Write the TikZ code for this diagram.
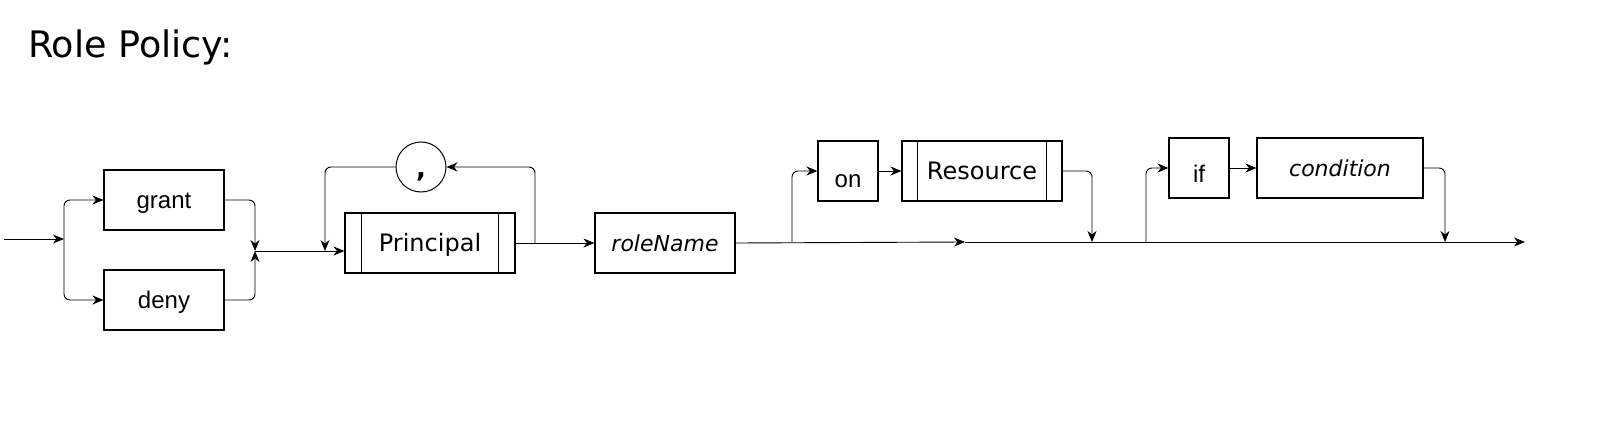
\documentclass[tikz,border=0pt]{standalone}
\usepackage{fontspec}
\setmainfont{Liberation Sans}
\newfontfamily\dvs{DejaVu Sans}
\usetikzlibrary{arrows.meta}
\begin{document}
\begin{tikzpicture}[x=1pt,y=-1pt,
  box/.style={draw, line width=1.1pt, minimum height=60pt, inner sep=0pt,
    text height=17pt, text depth=0pt, font=\fontsize{24}{28}\selectfont},
  dbox/.style={box, font=\dvs\fontsize{24}{28}\selectfont},
  ibox/.style={box, font=\dvs\itshape\fontsize{22}{26}\selectfont},
  arr/.style={-{Stealth[length=11pt,width=9pt,inset=3.5pt]}, line width=0.9pt, rounded corners=6pt},
  conn/.style={line width=0.9pt, rounded corners=6pt}]
\useasboundingbox (0,0) rectangle (1598,436);

\node[anchor=base west, font=\dvs\fontsize{36.5}{44}\selectfont, inner sep=0pt] (title) at (28,58) {Role Policy:};

% boxes
\node[box, minimum width=120pt] (grant) at (164,200) {grant};
\node[box, minimum width=120pt] (deny) at (164,300) {deny};
\node[dbox, minimum width=170pt] (principal) at (430,243) {Principal};
\draw[line width=1.1pt] ([xshift=17pt]principal.north west) -- ([xshift=17pt]principal.south west);
\draw[line width=1.1pt] ([xshift=-17pt]principal.north east) -- ([xshift=-17pt]principal.south east);
\node[draw, circle, line width=1pt, minimum size=50pt, inner sep=0pt, text height=20pt, text depth=0pt,
  font=\dvs\bfseries\fontsize{26}{30}\selectfont] (comma) at (421,167) {,};
\node[ibox, minimum width=140pt] (role) at (665,243) {roleName};
\node[box, minimum width=60pt, text height=32pt] (on) at (848,171) {on};
\node[dbox, minimum width=160pt] (resource) at (982,171) {Resource};
\draw[line width=1.1pt] ([xshift=16pt]resource.north west) -- ([xshift=16pt]resource.south west);
\draw[line width=1.1pt] ([xshift=-16pt]resource.north east) -- ([xshift=-16pt]resource.south east);
\node[box, minimum width=60pt, text height=29pt] (if) at (1199,168) {if};
\node[ibox, minimum width=166pt] (cond) at (1340,168) {condition};

% coordinates
\coordinate (start) at (4,239);
\coordinate (split) at (64,239);
\coordinate (merge) at (255,251);
\coordinate (loopR) at (535,243);
\coordinate (loopL) at (325,251);
\coordinate (mid) at (965,242);
\coordinate (onB) at (792,242);
\coordinate (resJ) at (1092,242);
\coordinate (ifB) at (1146,242);
\coordinate (condJ) at (1445,242);
\coordinate (finish) at (1525,242);

% connectors
\draw[arr] (start) -- (split);
\draw[arr] (split) |- (grant.west);
\draw[arr] (split) |- (deny.west);
\draw[arr] (grant.east) -| (merge);
\draw[arr] (deny.east) -| (merge);
\draw[arr] (merge) -- (merge -| principal.west);
\draw[arr] (loopR) |- (comma.east);
\draw[arr] (comma.west) -| (loopL);
\draw[arr] (principal.east) -- (role.west);
\draw[arr] (role.east) -- (mid);
\draw[arr] (mid) -- (finish);
\draw[arr] (onB) |- (on.west);
\draw[arr] (on.east) -- (on.east -| resource.west);
\draw[arr] (resource.east) -| (resJ);
\draw[arr] (ifB) |- (if.west);
\draw[arr] (if.east) -- (cond.west);
\draw[arr] (cond.east) -| (condJ);
\end{tikzpicture}
\end{document}
